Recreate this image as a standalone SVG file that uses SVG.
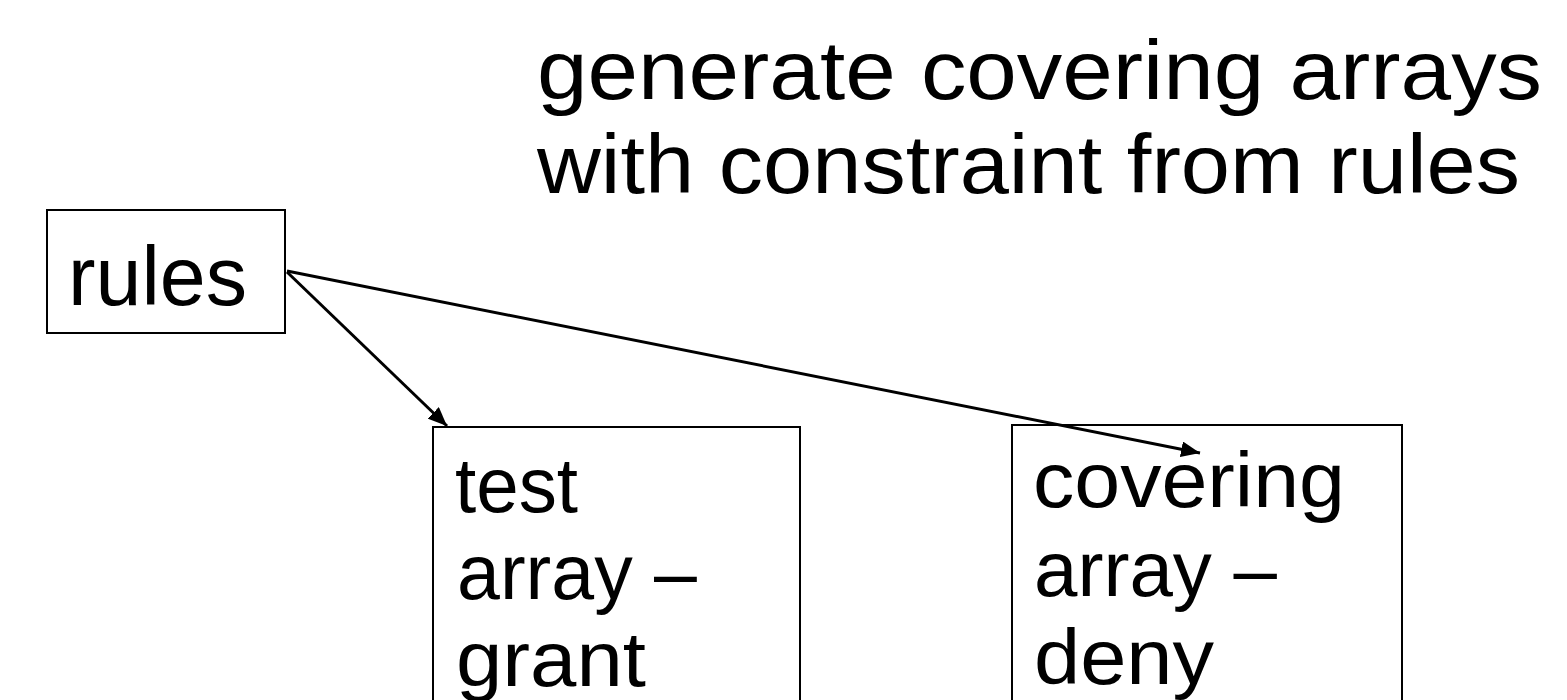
<svg xmlns="http://www.w3.org/2000/svg" width="1567" height="700" viewBox="0 0 1567 700">
<style>
text{font-family:"Liberation Sans",Arial,sans-serif;fill:#000}
.t{font-size:84px}
.b{font-size:78px}
.box{fill:#fff;stroke:#000;stroke-width:2}
.c{stroke:#000;stroke-width:3;fill:none}
</style>
<defs>
<marker id="ah" markerUnits="userSpaceOnUse" markerWidth="20" markerHeight="16" refX="19" refY="8" orient="auto">
<path d="M0,0 L19,8 L0,16 z" fill="#000"/>
</marker>
</defs>
<rect width="1567" height="700" fill="#fff"/>
<g id="title">
<text class="t" x="537" y="99" textLength="1005" lengthAdjust="spacingAndGlyphs">generate covering arrays</text>
<text class="t" x="537" y="193" textLength="983" lengthAdjust="spacingAndGlyphs">with constraint from rules</text>
</g>
<g id="rules">
<rect class="box" x="47" y="210" width="238" height="123"/>
<text x="68" y="305" style="font-size:84px" textLength="179" lengthAdjust="spacingAndGlyphs">rules</text>
</g>
<g id="grant">
<rect class="box" x="433" y="427" width="367" height="290"/>
<text class="b" x="455" y="512" textLength="123" lengthAdjust="spacingAndGlyphs">test</text>
<text class="b" x="457" y="599" textLength="240" lengthAdjust="spacingAndGlyphs">array –</text>
<text class="b" x="456" y="686" textLength="190" lengthAdjust="spacingAndGlyphs">grant</text>
</g>
<g id="deny">
<rect class="box" x="1012" y="425" width="390" height="290"/>
<text class="b" x="1033" y="507" textLength="312" lengthAdjust="spacingAndGlyphs">covering</text>
<text class="b" x="1034" y="596" textLength="243" lengthAdjust="spacingAndGlyphs">array –</text>
<text class="b" x="1034" y="684" textLength="180" lengthAdjust="spacingAndGlyphs">deny</text>
</g>
<g id="connectors">
<line class="c" x1="287" y1="272" x2="447" y2="426" marker-end="url(#ah)"/>
<line class="c" x1="287" y1="271" x2="1200" y2="453" marker-end="url(#ah)"/>
</g>
</svg>
